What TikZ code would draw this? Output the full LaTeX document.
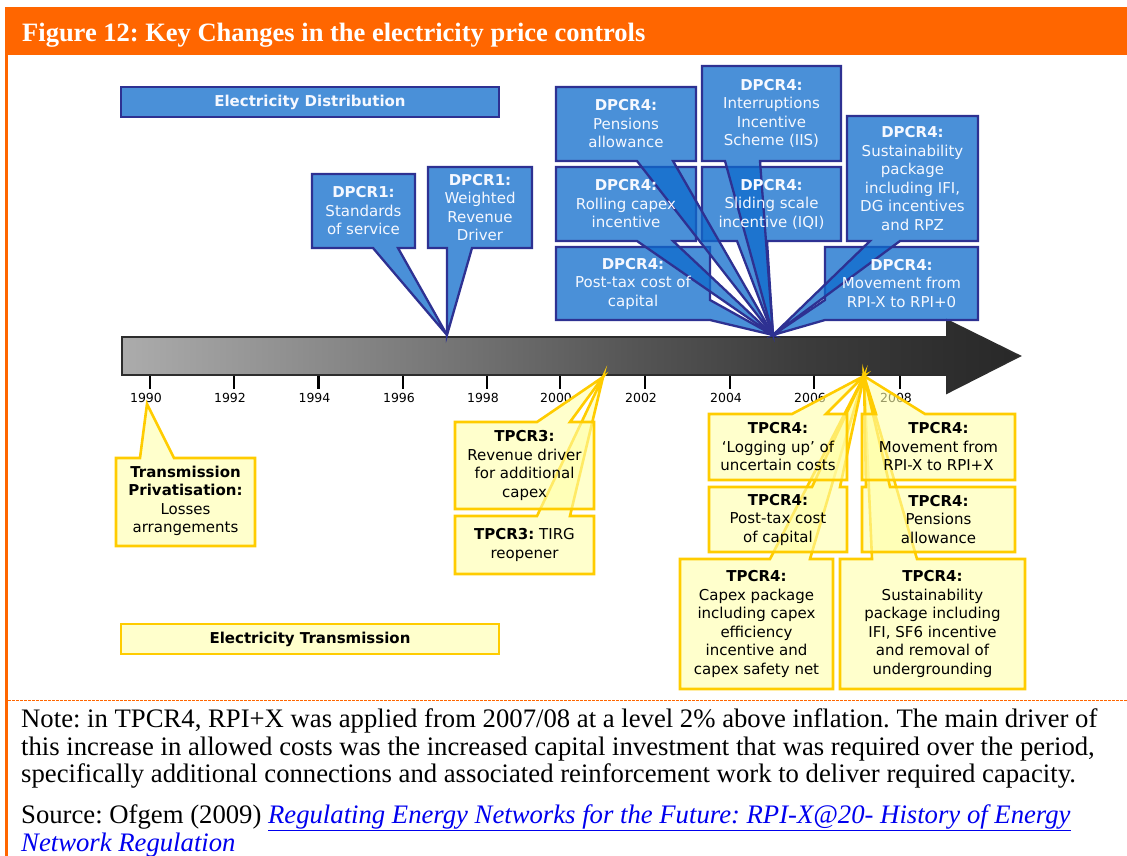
\documentclass[tikz,border=0pt]{standalone}
\usepackage{fontspec}
\setmainfont{Liberation Serif}
\newfontfamily\vfont{DejaVu Sans}
\frenchspacing

\definecolor{hdrorange}{RGB}{255,102,0}
\definecolor{bluefill}{RGB}{14,107,204}
\definecolor{navyline}{RGB}{46,49,146}
\definecolor{yelfill}{RGB}{255,255,170}
\definecolor{goldline}{RGB}{255,204,0}
\definecolor{linkblue}{RGB}{0,0,238}
\definecolor{txtwhite}{RGB}{245,248,255}
\definecolor{barline}{RGB}{45,45,45}
\definecolor{ga}{RGB}{172,172,172}
\definecolor{gb}{RGB}{142,142,142}
\definecolor{gc}{RGB}{112,112,112}
\definecolor{gd}{RGB}{84,84,84}
\definecolor{ge}{RGB}{60,60,60}
\definecolor{gf}{RGB}{46,46,46}
\definecolor{gg}{RGB}{40,40,40}

\begin{document}
\begin{tikzpicture}[x=1pt,y=-1pt,
  bcall/.style={fill=bluefill, fill opacity=0.75, draw=navyline, draw opacity=1, line width=2.3pt},
  ycall/.style={fill=yelfill, fill opacity=0.6, draw=goldline, draw opacity=1, line width=2.6pt},
  btxt/.style={text=txtwhite, font=\vfont\fontsize{15}{18.5}\selectfont, align=center, inner sep=0pt},
  ytxt/.style={text=black, font=\vfont\fontsize{15}{18.5}\selectfont, align=center, inner sep=0pt},
  yearlbl/.style={text=black, font=\vfont\fontsize{12.5}{14}\selectfont, inner sep=0pt},
  tick/.style={line width=2.2pt, black},
  notetxt/.style={anchor=base west, inner sep=0pt, font=\fontsize{26.7}{28}\selectfont}
]
\useasboundingbox (0,0) rectangle (1127,856);
\fill[white] (0,0) rectangle (1127,856);

% ---- frame and heading ----
\fill[hdrorange] (5,7) rectangle (1127,55);
\node[anchor=base west, inner sep=0pt, text=white, font=\bfseries\fontsize{26.5}{30}\selectfont] (title) at (22,42) {Figure 12: Key Changes in the electricity price controls};
\draw[hdrorange, line width=2.5pt] (6.5,54) -- (6.5,856);
\draw[hdrorange, line width=1pt, dash pattern=on 2.5pt off 1.5pt] (8,700) -- (1127,700);

% ---- timeline arrow ----
\begin{scope}
  \clip (122,337) -- (947,337) -- (947,320) -- (1020,356) -- (947,393) -- (947,375) -- (122,375) -- cycle;
  \shade[left color=ga, right color=gb] (120,318) rectangle (300.5,395);
  \shade[left color=gb, right color=gc] (300,318) rectangle (480.5,395);
  \shade[left color=gc, right color=gd] (480,318) rectangle (640.5,395);
  \shade[left color=gd, right color=ge] (640,318) rectangle (800.5,395);
  \shade[left color=ge, right color=gf] (800,318) rectangle (947.5,395);
  \shade[left color=gf, right color=gg] (947,318) rectangle (1022,395);
\end{scope}
\draw[barline, line width=1.6pt] (122,337) -- (947,337) -- (947,320) -- (1020,356) -- (947,393) -- (947,375) -- (122,375) -- cycle;

% ---- year ticks ----
\foreach \xx/\yr in {150/1990, 234/1992, 318.5/1994, 403/1996, 487/1998, 560/2000, 645/2002, 730/2004, 814/2006, 900/2008} {
  \draw[tick] (\xx,376) -- (\xx,389);
  \node[yearlbl] (y\yr) at (\xx-4,398) {\yr};
}

% ---- distribution callouts ----
\path[bcall] (121,87) rectangle (499,117);
\path[bcall] (312,174) -- (415,174) -- (415,248) -- (398,248) -- (447,335) -- (373,248) -- (312,248) -- cycle;
\path[bcall] (428,167) -- (532,167) -- (532,248) -- (472,248) -- (447,335) -- (447,248) -- (428,248) -- cycle;

\path[bcall] (556,247) -- (710,247) -- (710,300) -- (773,335) -- (710,320) -- (556,320) -- cycle;
\path[bcall] (825,247) -- (978,247) -- (978,320) -- (825,320) -- (773,335) -- (825,300) -- cycle;
\path[bcall] (847,116) -- (978,116) -- (978,241) -- (900,241) -- (773,335) -- (870,241) -- (847,241) -- cycle;
\path[bcall] (556,167) -- (696,167) -- (696,241) -- (673,241) -- (773,335) -- (637,241) -- (556,241) -- cycle;
\path[bcall] (702,167) -- (841,167) -- (841,241) -- (767,241) -- (773,335) -- (737,241) -- (702,241) -- cycle;
\path[bcall] (556,87) -- (696,87) -- (696,161) -- (673,161) -- (773,335) -- (637,161) -- (556,161) -- cycle;
\path[bcall] (702,66) -- (841,66) -- (841,161) -- (760,161) -- (773,335) -- (725,161) -- (702,161) -- cycle;

% ---- transmission callouts ----
\path[ycall] (680,559) -- (770,559) -- (864,376) -- (810,559) -- (833,559) -- (833,689) -- (680,689) -- cycle;
\path[ycall] (840,559) -- (872,559) -- (864,376) -- (917,559) -- (1025,559) -- (1025,689) -- (840,689) -- cycle;
\path[ycall] (709,487) -- (812,487) -- (864,376) -- (840,487) -- (847,487) -- (847,552) -- (709,552) -- cycle;
\path[ycall] (862,487) -- (866,487) -- (864,376) -- (890,487) -- (1015,487) -- (1015,552) -- (862,552) -- cycle;
\path[ycall] (709,414) -- (792,414) -- (864,376) -- (826,414) -- (847,414) -- (847,480) -- (709,480) -- cycle;
\path[ycall] (862,414) -- (876,414) -- (864,376) -- (925,414) -- (1015,414) -- (1015,480) -- (862,480) -- cycle;
\path[ycall] (455,516) -- (537,516) -- (603,377) -- (570,516) -- (594,516) -- (594,574) -- (455,574) -- cycle;
\path[ycall] (455,422) -- (537,422) -- (603,377) -- (570,422) -- (594,422) -- (594,509) -- (455,509) -- cycle;
\path[ycall] (116,458) -- (140,458) -- (147,404) -- (174,458) -- (255,458) -- (255,546) -- (116,546) -- cycle;
\path[ycall] (121,624) rectangle (499,654);

% ---- texts ----
\node[btxt] (dist) at (310,102) {\textbf{Electricity Distribution}};
\node[btxt] (d1std) at (363.5,211) {\textbf{DPCR1:}\\Standards\\of service};
\node[btxt] (d1wrd) at (480,207.5) {\textbf{DPCR1:}\\Weighted\\Revenue\\Driver};
\node[btxt] (d4pen) at (626,124) {\textbf{DPCR4:}\\Pensions\\allowance};
\node[btxt] (d4iis) at (771.5,113.5) {\textbf{DPCR4:}\\Interruptions\\Incentive\\Scheme (IIS)};
\node[btxt] (d4rol) at (626,204) {\textbf{DPCR4:}\\Rolling capex\\incentive};
\node[btxt] (d4iqi) at (771.5,204) {\textbf{DPCR4:}\\Sliding scale\\incentive (IQI)};
\node[btxt] (d4sus) at (912.5,178.5) {\textbf{DPCR4:}\\Sustainability\\package\\including IFI,\\DG incentives\\and RPZ};
\node[btxt] (d4ptc) at (633,283.5) {\textbf{DPCR4:}\\Post-tax cost of\\capital};
\node[btxt] (d4rpi) at (901.5,283.5) {\textbf{DPCR4:}\\Movement from\\RPI-X to RPI+0};

\node[ytxt] (trans) at (310,639) {\textbf{Electricity Transmission}};
\node[ytxt] (tpriv) at (185.5,501) {\textbf{Transmission}\\\textbf{Privatisation:}\\Losses\\arrangements};
\node[ytxt] (t3rev) at (524.5,465.5) {\textbf{TPCR3:}\\Revenue driver\\for additional\\capex};
\node[ytxt] (t3tirg) at (524.5,545) {\textbf{TPCR3:} TIRG\\reopener};
\node[ytxt] (t4log) at (778,447) {\textbf{TPCR4:}\\‘Logging up’ of\\uncertain costs};
\node[ytxt] (t4rpi) at (938.5,447) {\textbf{TPCR4:}\\Movement from\\RPI-X to RPI+X};
\node[ytxt] (t4ptc) at (778,519.5) {\textbf{TPCR4:}\\Post-tax cost\\of capital};
\node[ytxt] (t4pen) at (938.5,519.5) {\textbf{TPCR4:}\\Pensions\\allowance};
\node[ytxt] (t4cap) at (756.5,624) {\textbf{TPCR4:}\\Capex package\\including capex\\efficiency\\incentive and\\capex safety net};
\node[ytxt] (t4sus) at (932.5,624) {\textbf{TPCR4:}\\Sustainability\\package including\\IFI, SF6 incentive\\and removal of\\undergrounding};

% ---- note ----
\node[notetxt] (note1) at (21,727.5) {Note: in TPCR4, RPI+X was applied from 2007/08 at a level 2\% above inflation. The main driver of};
\node[notetxt] (note2) at (21,755) {this increase in allowed costs was the increased capital investment that was required over the period,};
\node[notetxt] (note3) at (21,782.5) {specifically additional connections and associated reinforcement work to deliver required capacity.};
\node[notetxt] (src1) at (21,823) {Source: Ofgem (2009) {\color{linkblue}\underline{\textit{Regulating Energy Networks for the Future: RPI-X@20- History of Energy}}}};
\node[notetxt] (src2) at (21,851.5) {{\color{linkblue}\underline{\textit{Network Regulation}}}};
\end{tikzpicture}
\end{document}
